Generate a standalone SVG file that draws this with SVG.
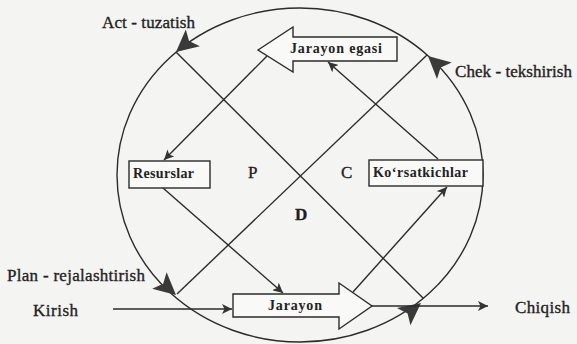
<svg xmlns="http://www.w3.org/2000/svg" width="577" height="344" viewBox="0 0 577 344">
<defs>
<style>
.ln{fill:none;stroke:#2b2b2b;stroke-width:1.4}
.bx{fill:#f9f9f8;stroke:#2b2b2b;stroke-width:1.4}
.lbl{font-family:"Liberation Serif","Times New Roman",serif;font-size:17px;fill:#1f1f1f;stroke:#1f1f1f;stroke-width:0.35}
.in{font-family:"Liberation Serif","Times New Roman",serif;font-size:14px;font-weight:bold;fill:#222}
.big{fill:#3a3a3a}
</style>
<marker id="sm" viewBox="0 0 10 10" refX="10" refY="5" markerWidth="10" markerHeight="10" markerUnits="userSpaceOnUse" orient="auto">
<path d="M0,0 L10,5 L0,10 L2.5,5 Z" fill="#333"/>
</marker>
<path id="ah" d="M0,0 L-22,-11 L-17,0 L-22,11 Z"/>
</defs>
<rect width="577" height="344" fill="#f4f4f2"/>

<g id="cycle">
<ellipse class="ln" cx="300" cy="175" rx="183" ry="167"/>
<use href="#ah" class="big" transform="translate(176,295) rotate(41)"/>
<use href="#ah" class="big" transform="translate(421,303) rotate(-38)"/>
<use href="#ah" class="big" transform="translate(428,56) rotate(-138)"/>
<use href="#ah" class="big" transform="translate(176,52) rotate(140)"/>
</g>

<g id="connectors">
<line class="ln" x1="176" y1="52" x2="423" y2="298"/>
<line class="ln" x1="177" y1="294" x2="427" y2="55"/>
<line class="ln" x1="267" y1="56" x2="164" y2="160" marker-end="url(#sm)"/>
<line class="ln" x1="438" y1="159" x2="328" y2="62" marker-end="url(#sm)"/>
<line class="ln" x1="163" y1="188" x2="283" y2="293" marker-end="url(#sm)"/>
<line class="ln" x1="353" y1="292" x2="447" y2="187" marker-end="url(#sm)"/>
<line class="ln" x1="113" y1="309" x2="232" y2="309" marker-end="url(#sm)"/>
<line class="ln" x1="372" y1="306" x2="488" y2="306" marker-end="url(#sm)"/>
</g>

<g id="jarayon-egasi">
<polygon class="bx" points="258,50 293,27 293,37 397,37 397,61 293,61 293,72"/>
<text class="in" x="290" y="53" textLength="92">Jarayon egasi</text>
</g>

<g id="resurslar">
<rect class="bx" x="129" y="161" width="81" height="27"/>
<text class="in" x="133" y="178" textLength="61">Resurslar</text>
</g>

<g id="korsatkichlar">
<rect class="bx" x="369" y="160" width="114" height="26"/>
<text class="in" x="373" y="177" textLength="95">Ko‘rsatkichlar</text>
</g>

<g id="jarayon">
<polygon class="bx" points="233,294 339,294 339,283 372,306 339,329 339,317 233,317"/>
<text class="in" x="268" y="310" textLength="54">Jarayon</text>
</g>

<g id="labels">
<text class="lbl" x="102" y="28" textLength="93">Act - tuzatish</text>
<text class="lbl" x="455" y="77" textLength="117">Chek - tekshirish</text>
<text class="lbl" x="7" y="281" textLength="138">Plan - rejalashtirish</text>
<text class="lbl" x="33" y="316" textLength="45">Kirish</text>
<text class="lbl" x="515" y="313" textLength="55">Chiqish</text>
<text class="lbl" x="248" y="178">P</text>
<text class="lbl" x="341" y="178">C</text>
<text class="lbl" x="295" y="220" font-weight="bold">D</text>
</g>
</svg>
